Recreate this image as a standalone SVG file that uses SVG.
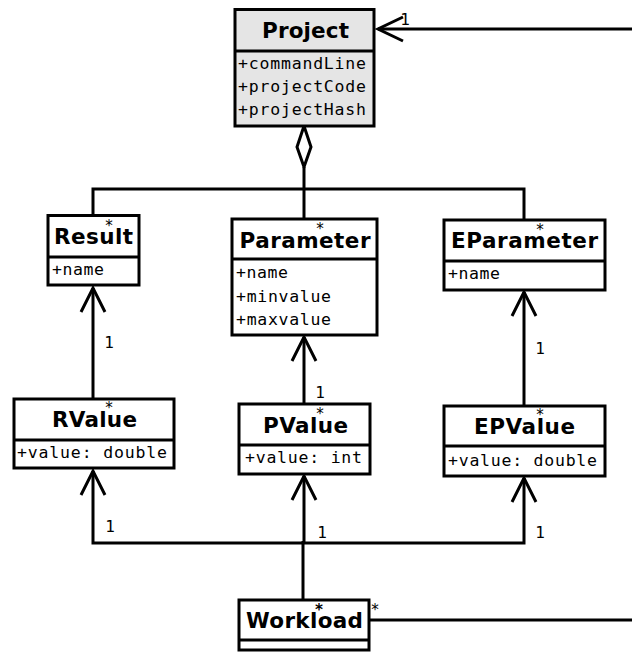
<svg xmlns="http://www.w3.org/2000/svg" width="632" height="653" viewBox="0 0 632 653">
  <style>
    .box { fill: #ffffff; stroke: #000000; stroke-width: 3; }
    .box.shaded { fill: #e5e5e5; }
    .div { stroke: #000000; stroke-width: 3; }
    .title { font-family: "DejaVu Sans", "Liberation Sans", sans-serif; font-weight: bold; font-size: 21.5px; text-anchor: middle; fill: #000; }
    .attr { font-family: "DejaVu Sans Mono", "Liberation Mono", monospace; font-size: 16.5px; fill: #000; }
    .mult { font-family: "DejaVu Sans Mono", "Liberation Mono", monospace; font-size: 16px; fill: #000; text-anchor: middle; }
    .star { font-family: "DejaVu Sans Mono", "Liberation Mono", monospace; font-size: 15px; fill: #000; text-anchor: middle; }
    .wire { fill: none; stroke: #000000; stroke-width: 3; }
    .head { fill: none; stroke: #000000; stroke-width: 3; stroke-linejoin: miter; }
  </style>

  <!-- connectors -->
  <g id="connectors">
    <!-- Workload to Project association -->
    <line class="wire" x1="632" y1="29" x2="378" y2="29"/>
    <polyline class="head" points="403,17 378,29 403,41"/>
    <line class="wire" x1="369" y1="620" x2="632" y2="620"/>

    <!-- Project aggregation -->
    <polygon points="304,126 297,147 304,167 311,147" fill="#ffffff" stroke="#000" stroke-width="3"/>
    <line class="wire" x1="304" y1="167" x2="304" y2="219"/>
    <polyline class="wire" points="93,215 93,189 524,189 524,220"/>

    <!-- value to definition -->
    <line class="wire" x1="93" y1="399" x2="93" y2="288"/>
    <polyline class="head" points="81,312 93,288 105,312"/>
    <line class="wire" x1="304" y1="404" x2="304" y2="337"/>
    <polyline class="head" points="292,361 304,337 316,361"/>
    <line class="wire" x1="524" y1="406" x2="524" y2="292"/>
    <polyline class="head" points="512,316 524,292 536,316"/>

    <!-- Workload to values -->
    <polyline class="wire" points="93,471 93,543 524,543 524,478"/>
    <polyline class="head" points="81,495 93,471 105,495"/>
    <polyline class="head" points="512,502 524,478 536,502"/>
    <line class="wire" x1="304" y1="476" x2="304" y2="543"/>
    <polyline class="head" points="292,500 304,476 316,500"/>
    <line class="wire" x1="303" y1="600" x2="303" y2="541" stroke-width="4"/>
  </g>

  <g id="project">
    <rect class="box shaded" x="235" y="9.5" width="139" height="116.5"/>
    <line class="div" x1="235" y1="51" x2="374" y2="51"/>
    <text class="title" x="305.5" y="38" textLength="87" lengthAdjust="spacing">Project</text>
    <text class="attr" x="238" y="69" textLength="128" lengthAdjust="spacing">+commandLine</text>
    <text class="attr" x="238" y="92" textLength="128" lengthAdjust="spacing">+projectCode</text>
    <text class="attr" x="238" y="115" textLength="128" lengthAdjust="spacing">+projectHash</text>
  </g>

  <g id="result">
    <rect class="box" x="48" y="215.5" width="91" height="69.5"/>
    <line class="div" x1="48" y1="257" x2="139" y2="257"/>
    <text class="title" x="93.5" y="244" textLength="79" lengthAdjust="spacing">Result</text>
    <text class="attr" x="52" y="275" textLength="52" lengthAdjust="spacing">+name</text>
  </g>

  <g id="parameter">
    <rect class="box" x="232" y="219" width="145" height="116"/>
    <line class="div" x1="232" y1="259" x2="377" y2="259"/>
    <text class="title" x="305" y="248" textLength="131" lengthAdjust="spacing">Parameter</text>
    <text class="attr" x="236" y="278" textLength="52" lengthAdjust="spacing">+name</text>
    <text class="attr" x="236" y="302" textLength="95" lengthAdjust="spacing">+minvalue</text>
    <text class="attr" x="236" y="325" textLength="95" lengthAdjust="spacing">+maxvalue</text>
  </g>

  <g id="eparameter">
    <rect class="box" x="444" y="220" width="161" height="70"/>
    <line class="div" x1="444" y1="261" x2="605" y2="261"/>
    <text class="title" x="524.5" y="248" textLength="147" lengthAdjust="spacing">EParameter</text>
    <text class="attr" x="448" y="279" textLength="52" lengthAdjust="spacing">+name</text>
  </g>

  <g id="rvalue">
    <rect class="box" x="14" y="399" width="160" height="69"/>
    <line class="div" x1="14" y1="440" x2="174" y2="440"/>
    <text class="title" x="94.5" y="427" textLength="85" lengthAdjust="spacing">RValue</text>
    <text class="attr" x="17" y="458" textLength="150" lengthAdjust="spacing">+value: double</text>
  </g>

  <g id="pvalue">
    <rect class="box" x="239" y="404" width="131" height="70"/>
    <line class="div" x1="239" y1="445" x2="370" y2="445"/>
    <text class="title" x="305.5" y="433" textLength="85" lengthAdjust="spacing">PValue</text>
    <text class="attr" x="245" y="463" textLength="117" lengthAdjust="spacing">+value: int</text>
  </g>

  <g id="epvalue">
    <rect class="box" x="444" y="406" width="161" height="70"/>
    <line class="div" x1="444" y1="446" x2="605" y2="446"/>
    <text class="title" x="524.5" y="434" textLength="101" lengthAdjust="spacing">EPValue</text>
    <text class="attr" x="448" y="466" textLength="149" lengthAdjust="spacing">+value: double</text>
  </g>

  <g id="workload">
    <rect class="box" x="239" y="600" width="130" height="50"/>
    <line class="div" x1="239" y1="640" x2="369" y2="640"/>
    <text class="title" x="304.5" y="628" textLength="117" lengthAdjust="spacing">Workload</text>
  </g>

  <!-- multiplicities at the connector ends -->
  <g id="multiplicities">
    <text class="mult" x="405" y="25">1</text>
    <text class="mult" x="109" y="348">1</text>
    <text class="mult" x="320" y="398">1</text>
    <text class="mult" x="540" y="354">1</text>
    <text class="mult" x="110" y="532">1</text>
    <text class="mult" x="322" y="538">1</text>
    <text class="mult" x="540" y="538">1</text>
    <text class="star" x="109" y="231">*</text>
    <text class="star" x="320" y="234">*</text>
    <text class="star" x="540" y="235">*</text>
    <text class="star" x="109" y="413">*</text>
    <text class="star" x="320" y="419">*</text>
    <text class="star" x="540" y="420">*</text>
    <text class="star" x="319" y="615" font-weight="bold">*</text>
    <text class="star" x="375" y="615">*</text>
  </g>
</svg>
